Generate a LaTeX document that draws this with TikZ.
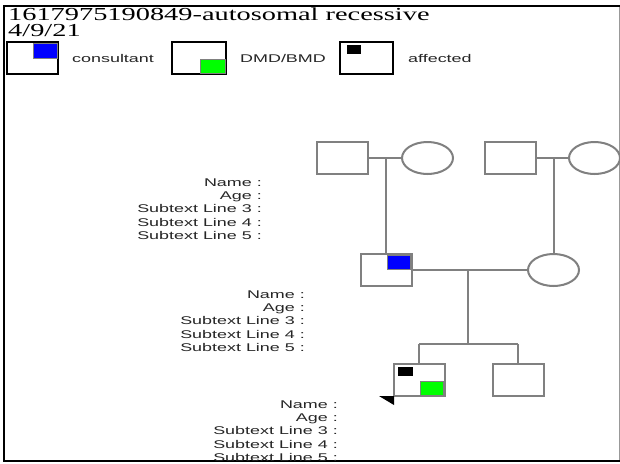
\documentclass[tikz,border=0pt]{standalone}
\usepackage{fontspec}
\usetikzlibrary{shapes.geometric}
\newfontfamily\lblfont[FakeStretch=1.6]{Liberation Sans}
\newfontfamily\ttlfont[FakeStretch=1.55]{Liberation Serif}
\definecolor{pedgray}{HTML}{808080}
\begin{document}
\begin{tikzpicture}[x=1pt,y=-1pt,
  pline/.style={draw=pedgray,line width=2pt},
  male/.style={rectangle,draw=pedgray,line width=2pt,fill=white,minimum width=51pt,minimum height=32pt,inner sep=0pt},
  female/.style={ellipse,draw=pedgray,line width=2pt,fill=white,minimum width=51pt,minimum height=32pt,inner sep=0pt},
  legbox/.style={rectangle,draw=black,line width=2.5pt,fill=white,inner sep=0pt},
  qmark/.style={draw=pedgray,line width=1pt},
  lbl/.style={anchor=base east,inner sep=0pt,text=black!85,font=\lblfont\fontsize{11.2}{13}\selectfont},
  legtxt/.style={anchor=west,inner sep=0pt,text=black!85,font=\lblfont\fontsize{11.2}{13}\selectfont},
  ttl/.style={anchor=base west,inner sep=0pt,text height=12.5pt,text depth=2pt,font=\ttlfont\fontsize{18.3}{16}\selectfont}]
\useasboundingbox (0,0) rectangle (620,463);
\fill[white] (0,0) rectangle (620,463);
% frame
\draw[black!40,line width=1pt] (619.5,6) -- (619.5,461);
\draw[black,line width=2pt] (620,6) -- (4,6) -- (4,461) -- (620,461);
% title
\node[ttl] (t1) at (8,20) {1617975190849-autosomal recessive};
\node[ttl] (t2) at (8,36.5) {4/9/21};
% legend
\node[legbox,minimum width=51pt,minimum height=32pt] (lg1) at (32.5,58) {};
\filldraw[fill=blue,qmark] (33,43) rectangle (57,58);
\node[legtxt] (lt1) at (72,58) {consultant};
\node[legbox,minimum width=54pt,minimum height=32pt] (lg2) at (199,58) {};
\filldraw[fill=green,qmark] (200,59) rectangle (225,73);
\node[legtxt] (lt2) at (240,58) {DMD/BMD};
\node[legbox,minimum width=53pt,minimum height=32pt] (lg3) at (366.5,58) {};
\fill[black] (347,45) rectangle (361,54);
\node[legtxt] (lt3) at (408,58) {affected};
% generation I
\node[male] (gf1) at (342.5,158) {};
\node[female] (gm1) at (427.5,158) {};
\node[male] (gf2) at (510,158) {};
\node[female] (gm2) at (594.5,158) {};
\coordinate (c1) at (386,158);
\coordinate (c2) at (553.5,158);
\draw[pline] (gf1.east) -- (gm1.west);
\draw[pline] (gf2.east) -- (gm2.west);
% generation II
\node[male] (son) at (386,270) {};
\node[female] (wife) at (553.5,270) {};
\filldraw[fill=blue,qmark] (387,255) rectangle (410.5,269);
\draw[pline] (c1) -- (son.north);
\draw[pline] (c2) -- (wife.north);
\coordinate (c3) at (468,270);
\draw[pline] (son.east) -- (c3) -- (wife.west);
% generation III
\node[male] (ch1) at (419,379.5) {};
\node[male] (ch2) at (518,380) {};
\coordinate (sb) at (468,344);
\coordinate (sl) at (419,344);
\coordinate (sr) at (518,344);
\draw[pline] (c3) -- (sb);
\draw[pline] (sl) -- (sr);
\draw[pline] (sl) -- (ch1.north);
\draw[pline] (sr) -- (ch2.north);
\fill[black] (398,367) rectangle (413,376);
\filldraw[fill=green,qmark] (420,381) rectangle (443.5,395);
\fill[black] (379,396) -- (394,396) -- (394,405) -- cycle;
% labels
\foreach \t [count=\i from 0] in {Name :,Age :,Subtext Line 3 :,Subtext Line 4 :,Subtext Line 5 :}{
  \node[lbl] (la\i) at (262,186+13.4*\i) {\t};
  \node[lbl] (lb\i) at (305,298+13.4*\i) {\t};
  \node[lbl] (lc\i) at (338,408+13.4*\i) {\t};
}
\end{tikzpicture}
\end{document}
